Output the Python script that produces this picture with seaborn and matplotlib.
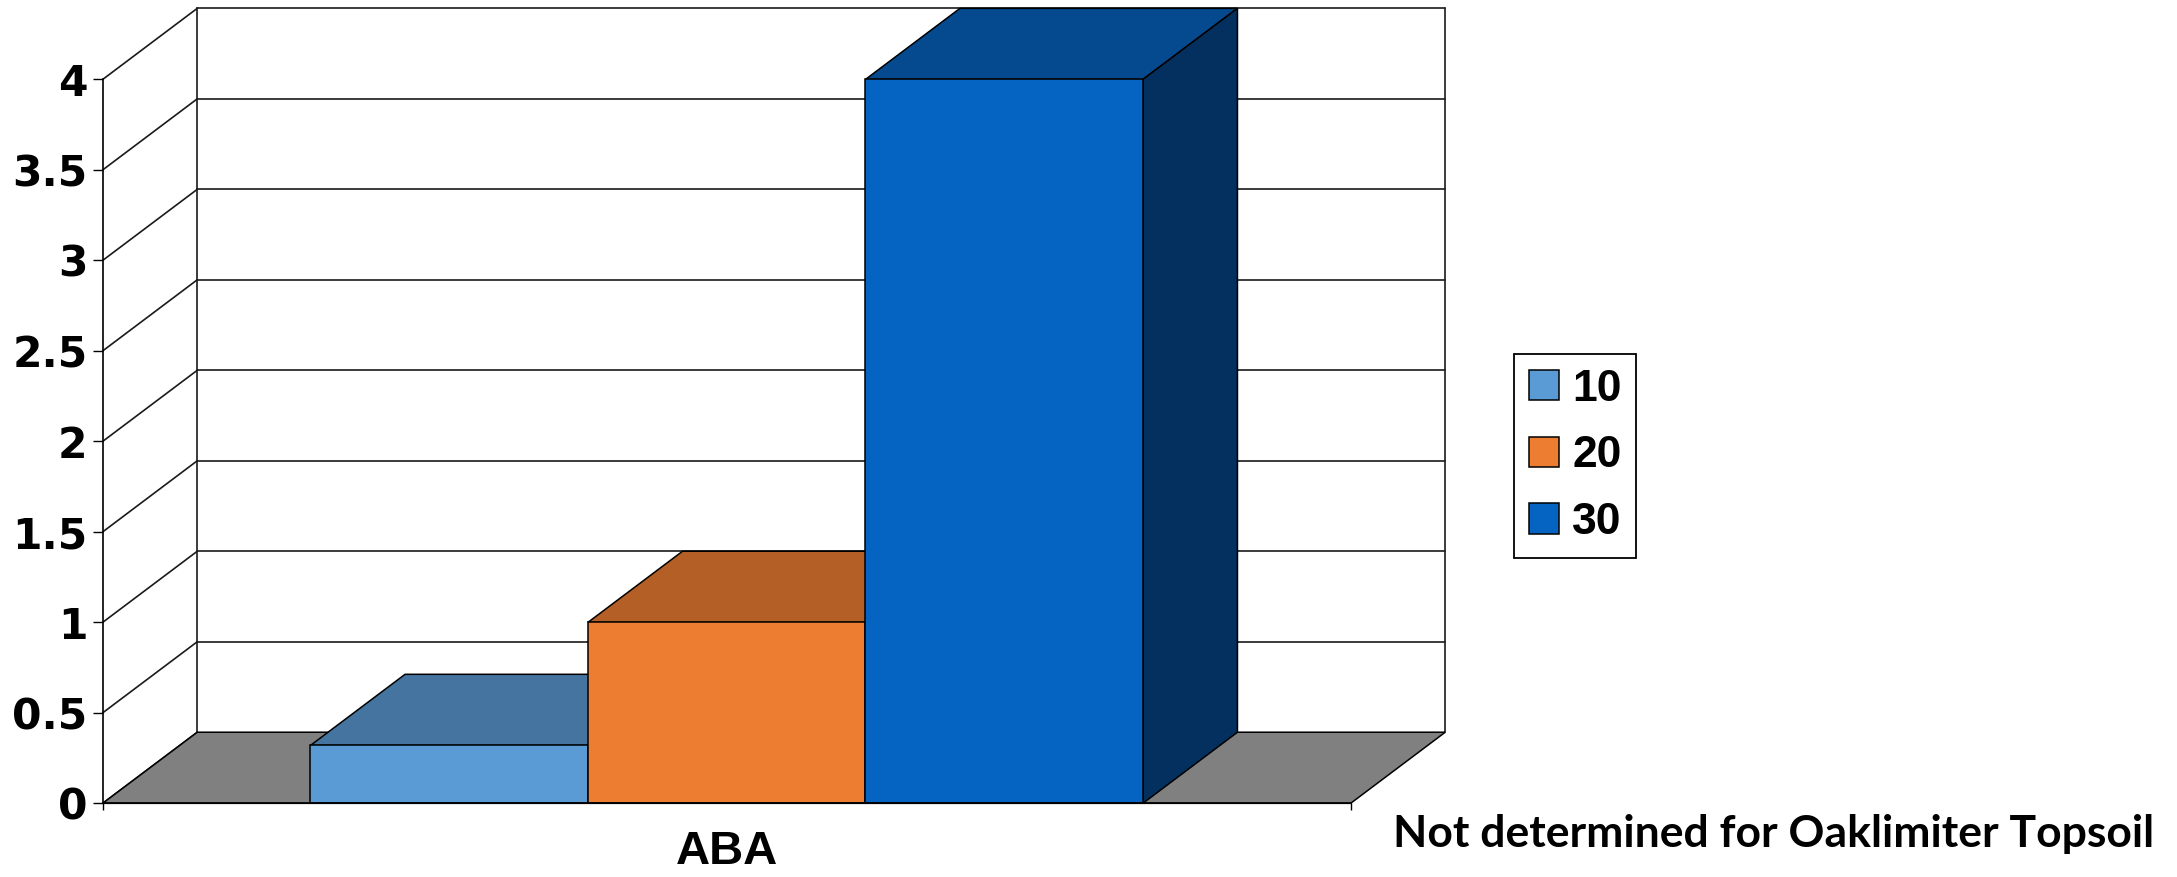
import matplotlib
matplotlib.use('Agg')
import matplotlib.pyplot as plt
import seaborn as sns
import pandas as pd
from matplotlib.patches import Polygon, Patch

# ---- data ----
categories = ['ABA']
series = ['10', '20', '30']
values = [0.32, 1.0, 4.0]
y_ticks = [0, 0.5, 1, 1.5, 2, 2.5, 3, 3.5, 4]
y_tick_labels = ['0', '0.5', '1', '1.5', '2', '2.5', '3', '3.5', '4']
note_text = 'Not determined for Oaklimiter Topsoil'

# ---- styles ----
front_colors = ['#5B9BD5', '#ED7D31', '#0563C1']
top_colors = ['#44749F', '#B35F25', '#054A8F']
side_colors = ['#36608A', '#8E4B1D', '#03305F']
floor_color = '#808080'
DX, DY = 0.0758, 0.393   # 3-D depth offset in data units
EDGE_LW = 1.1

df = pd.DataFrame({'category': categories * len(series),
                   'series': series,
                   'value': values})

sns.set_theme(style='white')
plt.rcParams['font.family'] = ['Liberation Sans', 'DejaVu Sans']
plt.rcParams['text.color'] = 'black'
plt.rcParams['xtick.color'] = 'black'
plt.rcParams['ytick.color'] = 'black'
plt.rcParams['xtick.labelcolor'] = 'black'
plt.rcParams['ytick.labelcolor'] = 'black'

fig = plt.figure(figsize=(21.77, 8.77), dpi=100)
ax = fig.add_axes([0.04717, 0.0840, 0.6167, 0.9065])

sns.barplot(data=df, x='category', y='value', hue='series', hue_order=series,
            palette=front_colors, width=0.667, dodge=True, saturation=1,
            edgecolor='black', linewidth=EDGE_LW, errorbar=None,
            legend=False, ax=ax)

ax.set_xlim(-0.5, 0.5 + DX)
ax.set_ylim(0, max(y_ticks) + DY)

# back wall / side wall grid
ymax = max(y_ticks)
grid_kw = dict(color='#1a1a1a', lw=1.2, clip_on=False, zorder=1)
for v in y_ticks:
    ax.plot([-0.5, -0.5 + DX], [v, v + DY], **grid_kw)
    if v > 0:
        ax.plot([-0.5 + DX, 0.5 + DX], [v + DY, v + DY], **grid_kw)
ax.plot([-0.5 + DX, -0.5 + DX], [DY, ymax + DY], **grid_kw)
ax.plot([0.5 + DX, 0.5 + DX], [DY, ymax + DY], **grid_kw)

# floor
floor = Polygon([(-0.5, 0), (-0.5 + DX, DY), (0.5 + DX, DY), (0.5, 0)],
                closed=True, facecolor=floor_color, edgecolor='black',
                lw=EDGE_LW, zorder=2, clip_on=False)
ax.add_patch(floor)

# 3-D faces on the seaborn bars
bars = sorted([p for p in ax.patches if p is not floor], key=lambda p: p.get_x())
for i, (p, tc, sc) in enumerate(zip(bars, top_colors, side_colors)):
    x0, w, h = p.get_x(), p.get_width(), p.get_height()
    p.set_zorder(10 + i + 0.5)
    p.set_clip_on(False)
    top = Polygon([(x0, h), (x0 + w, h), (x0 + w + DX, h + DY), (x0 + DX, h + DY)],
                  closed=True, facecolor=tc, edgecolor='black', lw=EDGE_LW,
                  zorder=10 + i, clip_on=False)
    side = Polygon([(x0 + w, 0), (x0 + w, h), (x0 + w + DX, h + DY), (x0 + w + DX, DY)],
                   closed=True, facecolor=sc, edgecolor='black', lw=EDGE_LW,
                   zorder=10 + i, clip_on=False)
    ax.add_patch(top)
    ax.add_patch(side)

# axes / spines
for s in ['top', 'right']:
    ax.spines[s].set_visible(False)
for s in ['left', 'bottom']:
    ax.spines[s].set_color('black')
    ax.spines[s].set_linewidth(1.2)
    ax.spines[s].set_zorder(20)
ax.spines['left'].set_bounds(0, ymax)
ax.spines['bottom'].set_bounds(-0.5, 0.5)

ax.set_yticks(y_ticks)
ax.set_yticklabels(y_tick_labels, fontsize=30.5, fontweight='bold',
                   family=['DejaVu Sans'])
ax.tick_params(axis='y', left=True, length=7, width=1, pad=4, color='black',
               direction='out')
ax.set_xticks([-0.5, 0.5])
ax.set_xticklabels(['', ''])
ax.tick_params(axis='x', which='major', bottom=True, length=5, width=1,
               color='black', direction='out')
ax.set_xticks([0], minor=True)
ax.set_xticklabels(categories, minor=True, fontsize=34, fontweight='bold')
ax.tick_params(axis='x', which='minor', bottom=True, length=0, pad=19)
ax.set_xlabel('')
ax.set_ylabel('')
ax.grid(False)
ax.set_facecolor('white')

# legend
handles = [Patch(facecolor=c, edgecolor='black', linewidth=EDGE_LW, label=s)
           for s, c in zip(series, front_colors)]
leg = fig.legend(handles=handles, loc='upper left', bbox_to_anchor=(0.6955, 0.5965),
                 frameon=True, fancybox=False, framealpha=1, edgecolor='black',
                 prop={'family': 'Liberation Sans', 'weight': 'bold', 'size': 32},
                 handlelength=0.675, handleheight=0.675, handletextpad=0.3,
                 labelspacing=0.58, borderpad=0.33, borderaxespad=0)
leg.get_frame().set_linewidth(1.3)
for t in leg.get_texts():
    t.set_color('black')

fig.text(0.6399, 0.0345, note_text, fontsize=32, fontweight='bold',
         family=['Lato', 'DejaVu Sans'], ha='left', va='baseline', color='black')

fig.savefig('out.png', dpi=100, facecolor='white')
